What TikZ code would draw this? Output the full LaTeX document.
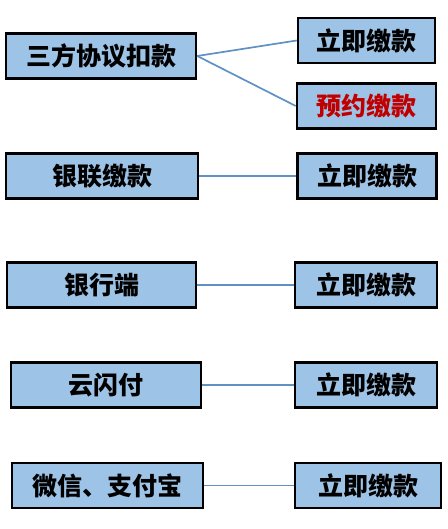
\documentclass[tikz,border=0pt]{standalone}
\usepackage{fontspec}
\newfontfamily\cjk{Noto Sans CJK SC}
\definecolor{boxblue}{RGB}{157,195,230}
\definecolor{linkblue}{RGB}{95,145,195}
\definecolor{darkred}{RGB}{192,0,0}

\begin{document}
\begin{tikzpicture}[x=1pt,y=1pt,auto,node distance=265pt,
				main node/.style = {rectangle,draw,line width=2.5pt,fill=boxblue, inner sep = 0pt, minimum width = 190pt, minimum height = 45pt, font=\cjk\bfseries\fontsize{25pt}{28pt}\selectfont},
				pay node/.style = {main node, minimum width = 140pt},
				link/.style = {draw=linkblue, line width=1.7pt}]
				\useasboundingbox (0,0) rectangle (447,529);
				
				\node[main node] at (101,473) (1) {三方协议扣款};
				\node[pay node,minimum width=137pt] at (366.5,488.5) (2) {立即缴款};
				\node[pay node,minimum width=139pt,text=darkred] at (366.5,423) (3) {预约缴款};
				
				\node[main node,minimum width=192pt] at (102,353) (4) {银联缴款};
				\node[pay node,minimum width=139pt] [right of = 4] (5) {立即缴款};
				
				\node[main node,minimum width=189pt] at (101.5,244) (6) {银行端};
				\node[pay node,minimum width=142pt] at (366,244) (7) {立即缴款};
				
				\node[main node] at (106,144) (8) {云闪付};
				\node[pay node,minimum width=142pt] at (366,144) (9) {立即缴款};
				
				\node[main node,minimum width=191pt] at (107.5,43.5) (10) {微信、支付宝};
				\node[pay node,minimum width=146pt] at (368,43.5) (11) {立即缴款};
				
				\path[link]
				(1.east) edge (2.west)
				edge (3.west)
				(4.east) edge (5.west)
				(6.east) edge (7.west)
				(8.east) edge (9.west)
				(10.east) edge (11.west);
				\end{tikzpicture}
\end{document}
